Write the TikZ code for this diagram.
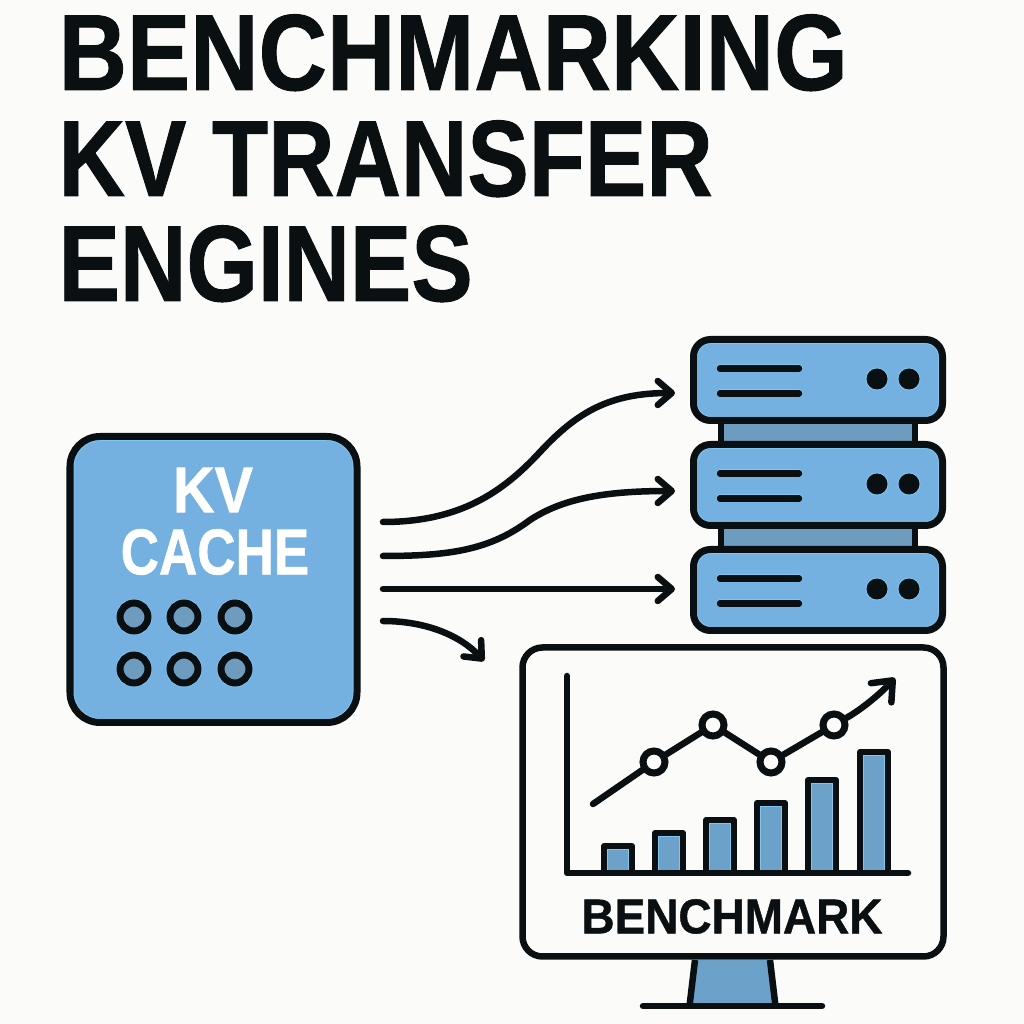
\documentclass[tikz,border=0pt]{standalone}
\usepackage{fontspec}
\setmainfont{Liberation Sans}
\newfontfamily\headfont[FakeBold=0.9]{Liberation Sans Bold}
\usetikzlibrary{arrows.meta,positioning}
\definecolor{bgcol}{HTML}{FBFBF9}
\definecolor{inkcol}{HTML}{0A0F12}
\definecolor{boxcol}{HTML}{74B1E1}
\definecolor{slatecol}{HTML}{6E9CBE}
\definecolor{barcol}{HTML}{6CA1C9}
\definecolor{rimcol}{HTML}{7CC6F2}
\tikzset{
    rimmed/.style={rounded corners=#1,path picture={
        \draw[rimcol,line width=0.09cm,rounded corners=#1] (path picture bounding box.south west) rectangle (path picture bounding box.north east);}},
    kvbox/.style={draw=inkcol,fill=boxcol,line width=0.07cm,minimum width=2.87cm,minimum height=2.86cm,inner sep=0pt,rimmed=0.3cm},
    serverbox/.style={draw=inkcol,fill=boxcol,line width=0.07cm,minimum width=2.49cm,minimum height=0.81cm,inner sep=0pt,rimmed=0.17cm},
    screenbox/.style={draw=inkcol,fill=bgcol,line width=0.065cm,minimum width=4.21cm,minimum height=3.09cm,inner sep=0pt,rounded corners=0.2cm},
    marker/.style={circle,draw=inkcol,fill=bgcol,line width=0.07cm,minimum size=0.22cm,inner sep=0pt},
    ink/.style={draw=inkcol,line width=0.065cm,line cap=round,line join=round},
    flow/.style={ink,-{Straight Barb[length=0.14cm,width=0.24cm,round]}},
    headline/.style={inkcol,inner sep=0pt,anchor=base west,xscale=#1,font=\headfont\fontsize{30.8pt}{31pt}\selectfont},
    cachetext/.style={white,inner sep=0pt,xscale=#1,font=\headfont\fontsize{18.4pt}{19pt}\selectfont},
}

\begin{document}
\begin{tikzpicture}
    \useasboundingbox (0,0) rectangle (10.24,10.24);
    \fill[bgcol] (0,0) rectangle (10.24,10.24);

    % title
    \node[headline=0.875] (titleA) at (0.58,9.34) {BENCHMARKING};
    \node[headline=0.85] (titleB) at (0.58,8.28) {KV TRANSFER};
    \node[headline=0.85] (titleC) at (0.58,7.23) {ENGINES};

    % cache block
    \node[kvbox] (cache) at (2.135,4.445) {};
    \node[cachetext=0.89] (cacheA) at (2.13,5.34) {KV};
    \node[cachetext=0.82] (cacheB) at (2.15,4.72) {CACHE};
    \foreach \x in {1.34,1.84,2.35}{
        \foreach \y in {4.07,3.55}{
            \fill[rimcol] (\x,\y) circle (0.183);
            \draw[draw=inkcol,fill=slatecol,line width=0.07cm] (\x,\y) circle (0.14);
        }
    }

    % server stack
    \draw[draw=inkcol,fill=slatecol,line width=0.06cm] (7.21,4.74) rectangle (9.15,4.99);
    \draw[draw=inkcol,fill=slatecol,line width=0.06cm] (7.21,5.79) rectangle (9.15,6.04);
    \foreach \n/\y in {A/6.44,B/5.39,C/4.34}{
        \node[serverbox] (server\n) at (8.18,\y) {};
        \draw[ink,rimcol,line width=0.08cm] (7.2,\y+0.115)--(7.99,\y+0.115);
        \draw[ink,rimcol,line width=0.08cm] (7.2,\y-0.135)--(7.99,\y-0.135);
        \draw[ink] (7.2,\y+0.115)--(7.99,\y+0.115);
        \draw[ink] (7.2,\y-0.135)--(7.99,\y-0.135);
        \fill[rimcol] (8.77,\y+0.01) circle (0.115);
        \fill[rimcol] (9.09,\y+0.01) circle (0.115);
        \fill[inkcol] (8.77,\y+0.01) circle (0.105);
        \fill[inkcol] (9.09,\y+0.01) circle (0.105);
    }

    % flows out of the cache
    \coordinate (outA) at (3.83,5.02);
    \coordinate (outB) at (3.83,4.68);
    \coordinate (outC) at (3.83,4.35);
    \coordinate (outD) at (3.83,4.03);
    \coordinate (inA) at (6.75,6.31);
    \coordinate (inB) at (6.75,5.33);
    \coordinate (inC) at (6.75,4.35);
    \coordinate (inD) at (4.84,3.63);
    \draw[flow] (outA) .. controls (4.6,5.02) and (5.03,5.32) .. (5.4,5.72) .. controls (5.77,6.12) and (6.1,6.31) .. (inA);
    \draw[flow] (outB) .. controls (4.5,4.68) and (4.9,4.74) .. (5.3,5.04) .. controls (5.65,5.27) and (6.1,5.33) .. (inB);
    \draw[flow] (outC)--(inC);
    \draw[flow] (outD) .. controls (4.25,4.03) and (4.6,3.89) .. (inD);

    % monitor
    \fill[barcol] (6.95,0.64)--(6.895,0.18)--(7.755,0.18)--(7.7,0.64)--cycle;
    \draw[ink,line cap=butt] (6.95,0.64)--(6.895,0.18);
    \draw[ink,line cap=butt] (7.7,0.64)--(7.755,0.18);
    \draw[ink] (6.43,0.18)--(8.22,0.18);
    \node[screenbox] (screen) at (7.33,2.22) {};

    % bars
    \foreach \x/\y in {6.04/1.78,6.55/1.91,7.06/2.04,7.57/2.21,8.08/2.44,8.60/2.72}{
        \draw[draw=inkcol,fill=barcol,line width=0.06cm,line join=round] (\x,1.51) rectangle (\x+0.28,\y);
        \draw[rimcol,line width=0.01cm] (\x+0.035,1.54) rectangle (\x+0.245,\y-0.035);
    }
    \draw[ink] (5.67,3.48)--(5.67,1.51)--(9.08,1.51);

    % trend line
    \coordinate (trendStart) at (5.93,2.2);
    \coordinate (trendEnd) at (8.95,3.46);
    \node[marker] (ptA) at (6.54,2.62) {};
    \node[marker] (ptB) at (7.13,2.99) {};
    \node[marker] (ptC) at (7.71,2.62) {};
    \node[marker] (ptD) at (8.34,2.99) {};
    \draw[ink] (trendStart)--(ptA);
    \draw[ink] (ptA)--(ptB);
    \draw[ink] (ptB)--(ptC);
    \draw[ink] (ptC)--(ptD);
    \draw[ink,-{Straight Barb[length=0.17cm,width=0.28cm,round]}] (ptD) .. controls (8.62,3.15) and (8.8,3.3) .. (trendEnd);
    \node[inkcol,inner sep=0pt,xscale=0.94,font=\headfont\fontsize{13.9pt}{14pt}\selectfont] (label) at (7.32,1.075) {BENCHMARK};
\end{tikzpicture}
\end{document}
